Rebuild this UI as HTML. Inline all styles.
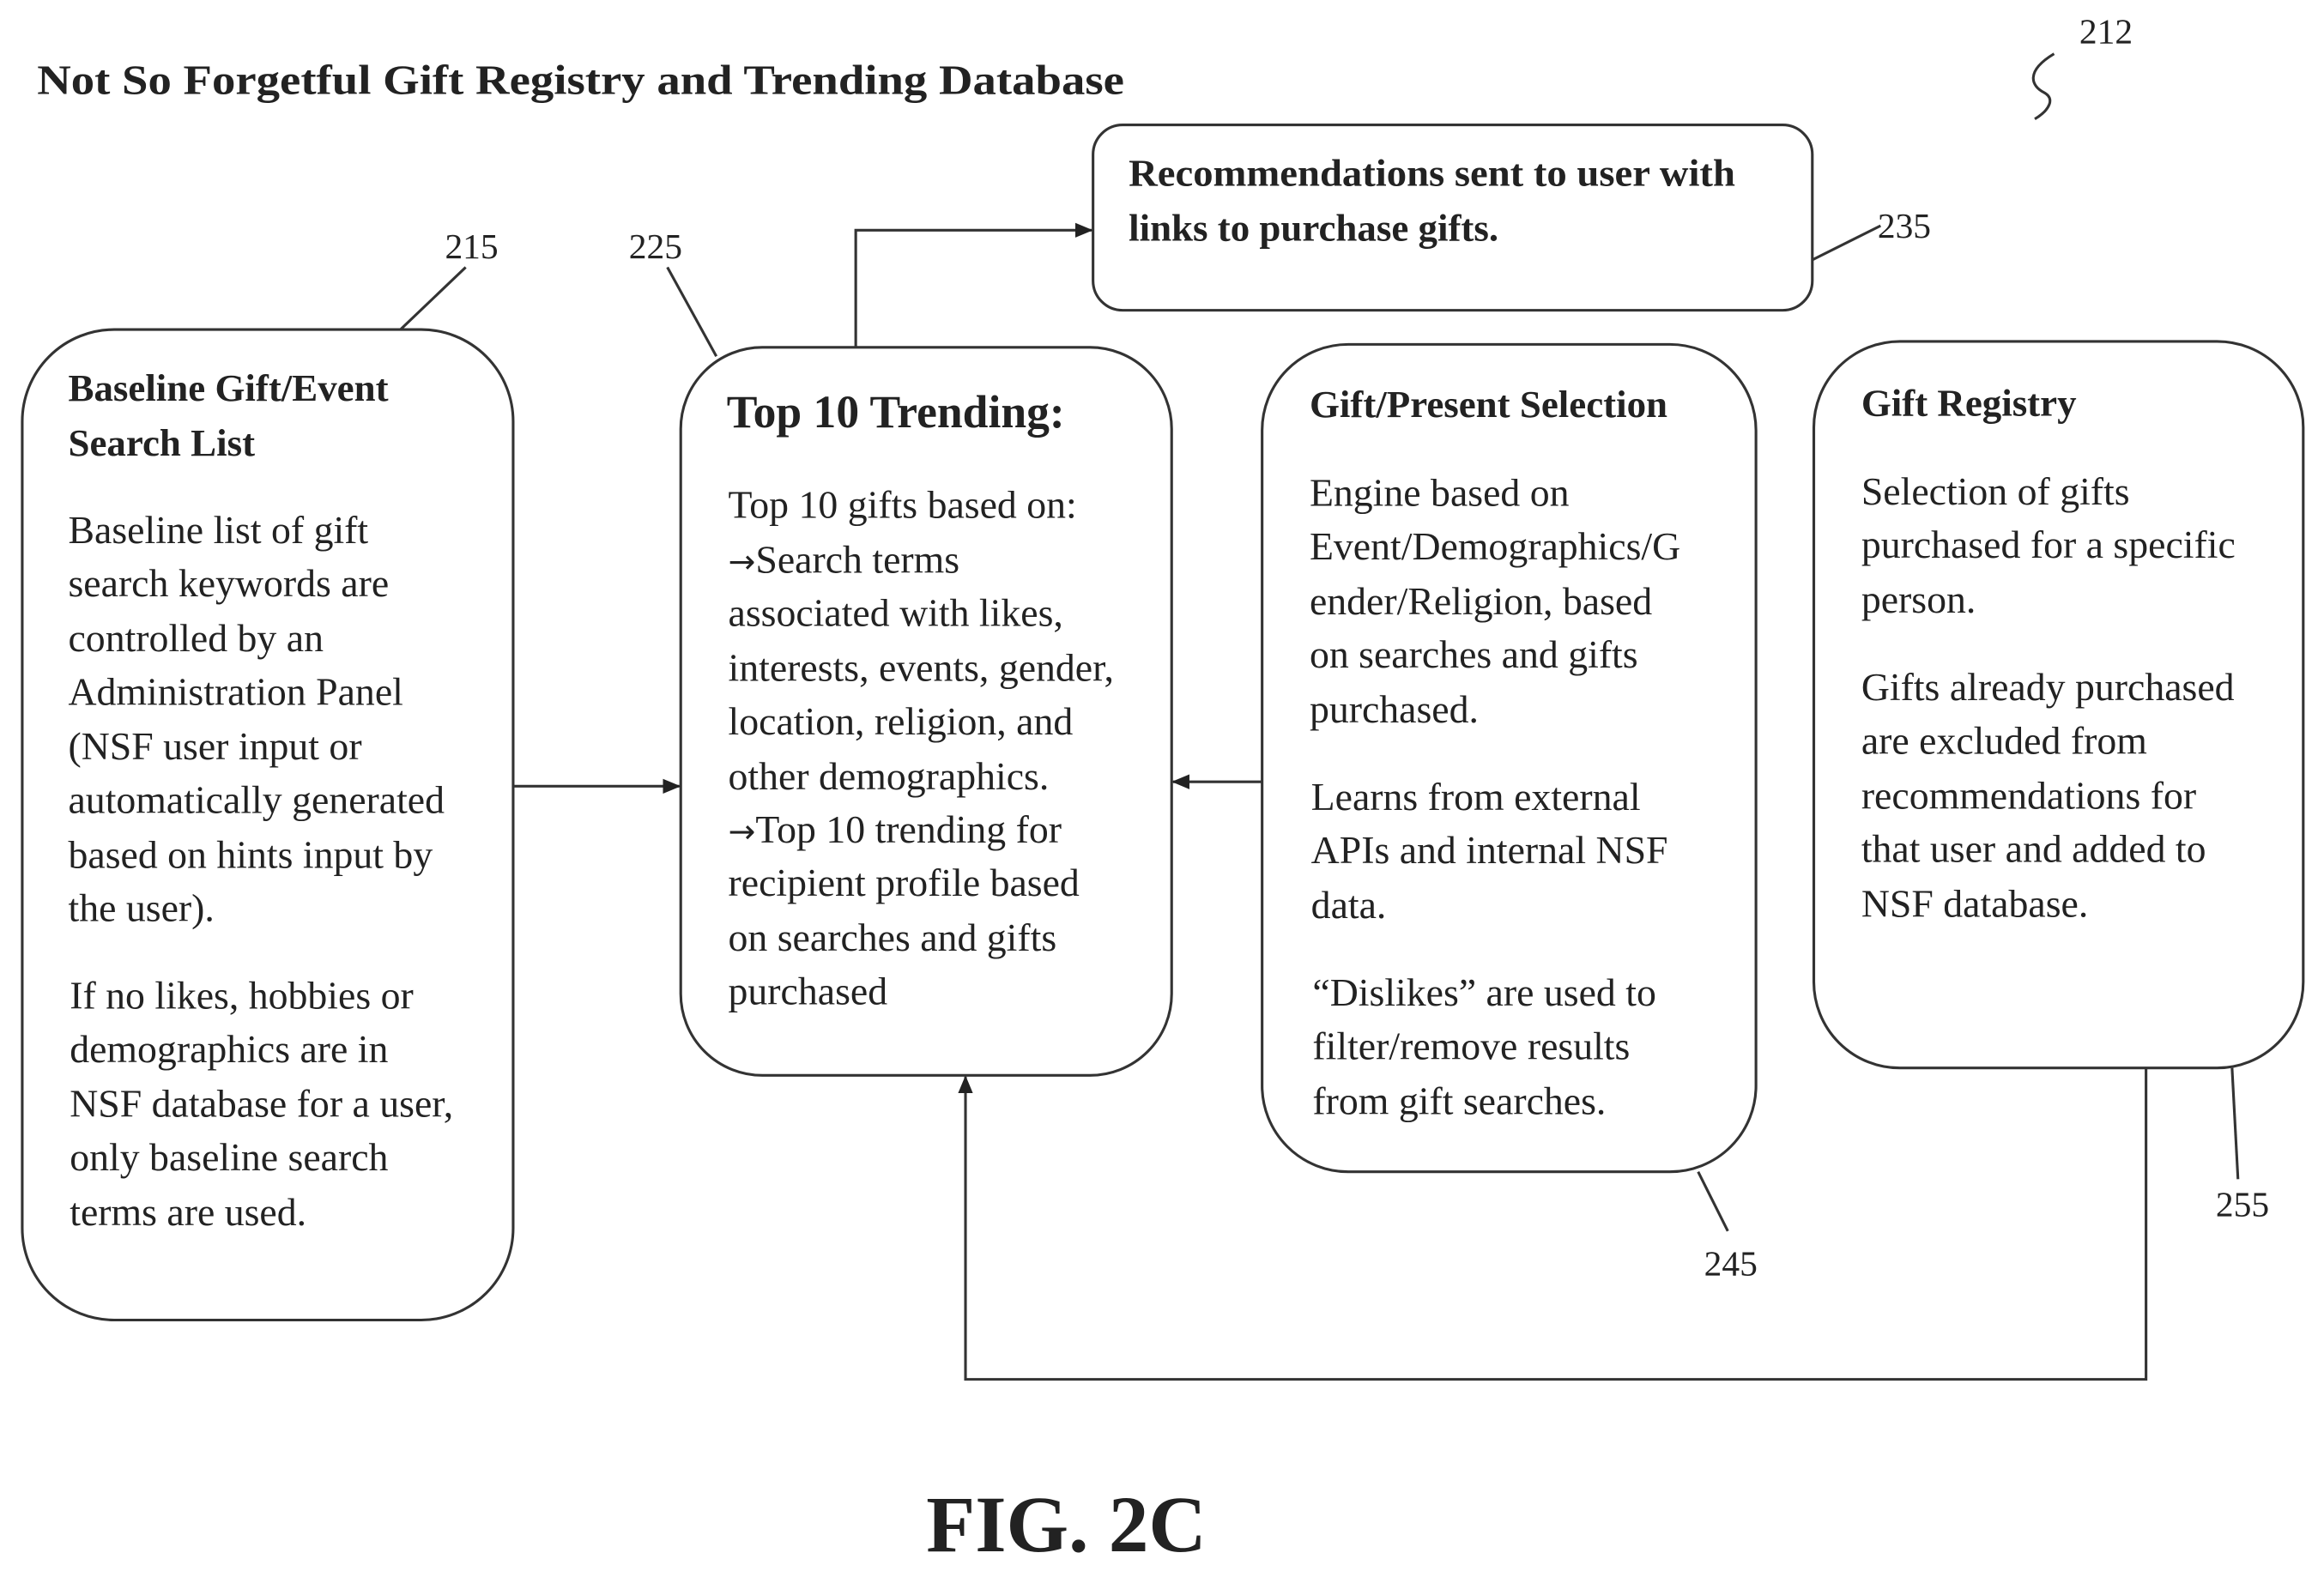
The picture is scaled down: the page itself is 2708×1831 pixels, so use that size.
<!DOCTYPE html>
<html><head><meta charset="utf-8"><style>
html,body{margin:0;padding:0;background:#fff;}
svg{display:block;}
text{font-family:"Liberation Serif",serif;fill:#222;}
.b{font-weight:bold;}
.t{font-size:26.5px;}
.h{font-size:26px;font-weight:bold;}
.n{font-size:24px;}
</style></head><body>
<svg width="2708" height="1831" viewBox="0 0 1567 1059" xmlns="http://www.w3.org/2000/svg">
<defs><marker id="a" markerWidth="12" markerHeight="10" refX="11" refY="5" orient="auto" markerUnits="userSpaceOnUse"><path d="M0,0 L12,5 L0,10 z" fill="#222"/></marker></defs>
<g fill="none" stroke="#333" stroke-width="1.8">
<rect x="15" y="222" width="331" height="668" rx="62"/>
<rect x="459" y="234" width="331" height="491" rx="55"/>
<rect x="851" y="232" width="333" height="558" rx="58"/>
<rect x="1223" y="230" width="330" height="490" rx="58"/>
<rect x="737" y="84" width="485" height="125" rx="20"/>
<line x1="346" y1="530" x2="458" y2="530" marker-end="url(#a)"/>
<line x1="851" y1="527" x2="791" y2="527" marker-end="url(#a)"/>
<polyline points="577,234 577,155 736,155" marker-end="url(#a)"/>
<polyline points="1447,720 1447,930 651,930 651,726" marker-end="url(#a)"/>
<line x1="270" y1="222" x2="314" y2="180"/>
<line x1="450" y1="180" x2="483" y2="240"/>
<line x1="1222" y1="175" x2="1268" y2="152"/>
<line x1="1145" y1="790" x2="1165" y2="830"/>
<line x1="1505" y1="720" x2="1509" y2="795"/>
<path d="M1385,36 C1365,48 1370,58 1378,62 C1386,66 1382,74 1372,80"/>
</g>
<text x="25" y="63" class="b" style="font-size:28px" textLength="733" lengthAdjust="spacingAndGlyphs">Not So Forgetful Gift Registry and Trending Database</text>
<text x="1402" y="29" class="n">212</text>
<text x="300" y="174" class="n">215</text>
<text x="424" y="174" class="n">225</text>
<text x="1266" y="160" class="n">235</text>
<text x="1149" y="860" class="n">245</text>
<text x="1494" y="820" class="n">255</text>
<text x="761" y="125" class="h" textLength="409" lengthAdjust="spacingAndGlyphs">Recommendations sent to user with</text>
<text x="761" y="162" class="h">links to purchase gifts.</text>
<g class="t">
<text x="46" y="270" class="h">Baseline Gift/Event</text>
<text x="46" y="307" class="h">Search List</text>
<text x="46" y="366">Baseline list of gift</text>
<text x="46" y="402">search keywords are</text>
<text x="46" y="439">controlled by an</text>
<text x="46" y="475">Administration Panel</text>
<text x="46" y="512">(NSF user input or</text>
<text x="46" y="548">automatically generated</text>
<text x="46" y="585">based on hints input by</text>
<text x="46" y="621">the user).</text>
<text x="47" y="680">If no likes, hobbies or</text>
<text x="47" y="716">demographics are in</text>
<text x="47" y="753">NSF database for a user,</text>
<text x="47" y="789">only baseline search</text>
<text x="47" y="826">terms are used.</text>

<text x="490" y="288" class="b" style="font-size:31px">Top 10 Trending:</text>
<text x="491" y="349">Top 10 gifts based on:</text>
<text x="491" y="386"><tspan font-family="DejaVu Sans" font-size="22">→</tspan>Search terms</text>
<text x="491" y="422">associated with likes,</text>
<text x="491" y="459">interests, events, gender,</text>
<text x="491" y="495">location, religion, and</text>
<text x="491" y="532">other demographics.</text>
<text x="491" y="568"><tspan font-family="DejaVu Sans" font-size="22">→</tspan>Top 10 trending for</text>
<text x="491" y="604">recipient profile based</text>
<text x="491" y="641">on searches and gifts</text>
<text x="491" y="677">purchased</text>

<text x="883" y="281" class="h">Gift/Present Selection</text>
<text x="883" y="341">Engine based on</text>
<text x="883" y="377">Event/Demographics/G</text>
<text x="883" y="414">ender/Religion, based</text>
<text x="883" y="450">on searches and gifts</text>
<text x="883" y="487">purchased.</text>
<text x="884" y="546">Learns from external</text>
<text x="884" y="582">APIs and internal NSF</text>
<text x="884" y="619">data.</text>
<text x="885" y="678">“Dislikes” are used to</text>
<text x="885" y="714">filter/remove results</text>
<text x="885" y="751">from gift searches.</text>

<text x="1255" y="280" class="h">Gift Registry</text>
<text x="1255" y="340">Selection of gifts</text>
<text x="1255" y="376">purchased for a specific</text>
<text x="1255" y="413">person.</text>
<text x="1255" y="472">Gifts already purchased</text>
<text x="1255" y="508">are excluded from</text>
<text x="1255" y="545">recommendations for</text>
<text x="1255" y="581">that user and added to</text>
<text x="1255" y="618">NSF database.</text>
</g>
<text x="719" y="1046" class="b" text-anchor="middle" style="font-size:54px">FIG. 2C</text>
</svg>
</body></html>
